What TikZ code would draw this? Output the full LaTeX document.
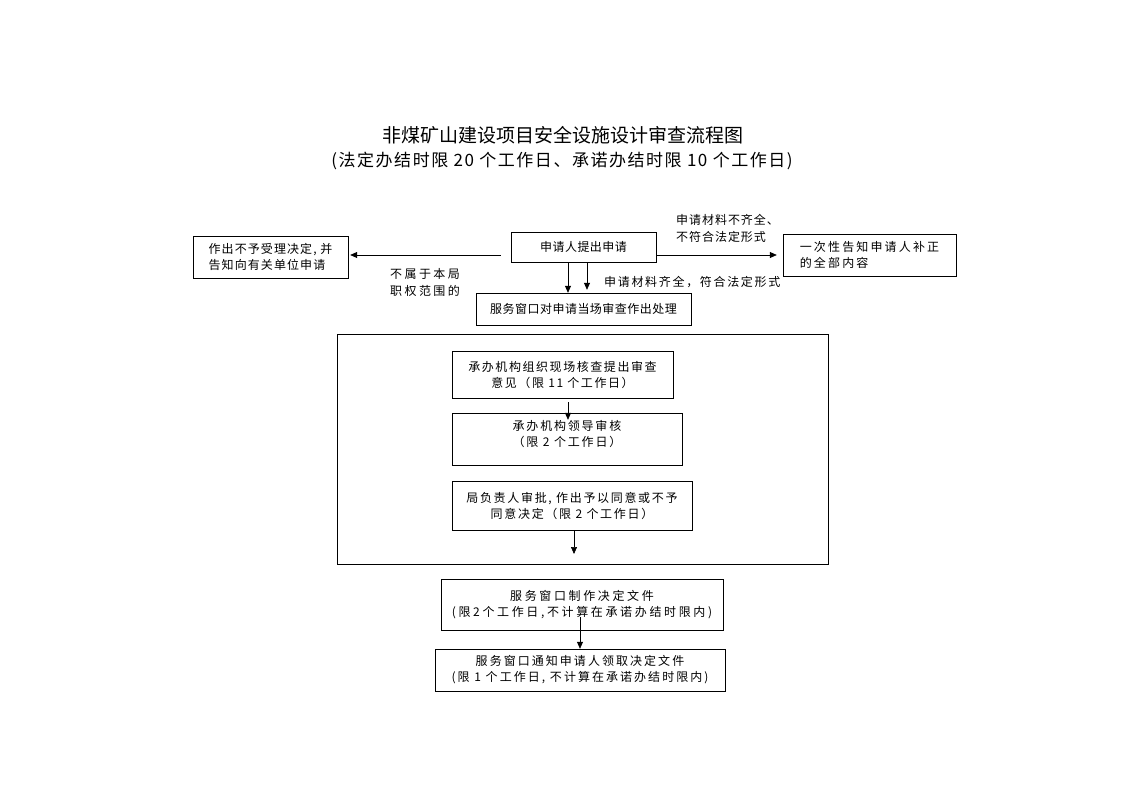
\documentclass[tikz,border=0pt]{standalone}
\usepackage{fontspec}
\setmainfont{Noto Sans CJK SC}
\usetikzlibrary{arrows.meta}

\tikzset{
  box/.style = {draw, thin, inner sep = 2pt, align = center, font = \fontsize{12}{16}\selectfont},
  lbox/.style = {box, align = left},
  sp/.style = {font = \fontsize{12}{16}\selectfont\addfontfeatures{LetterSpace = #1}},
  arr/.style = {-{Triangle[length = 7pt, width = 6pt]}, line width = 0.7pt},
  note/.style = {align = left, inner sep = 0pt}
}

\begin{document}
\begin{tikzpicture}[x = 1pt, y = -1pt]
\useasboundingbox (0, 0) rectangle (1122, 793);
% title
\node (title) at (563, 135) {\fontsize{19}{22}\selectfont 非煤矿山建设项目安全设施设计审查流程图};
\node (subtitle) at (562, 161) {\fontsize{17}{20}\selectfont\addfontfeatures{LetterSpace = 9}(法定办结时限 20 个工作日、承诺办结时限 10 个工作日)};
% top row
\node[box, sp = 4, minimum width = 145pt, minimum height = 30pt] (apply) at (583.5, 247) {申请人提出申请};
\node[lbox, sp = 9, minimum width = 155pt, minimum height = 42pt] (reject) at (270.5, 257) {作出不予受理决定, 并\\告知向有关单位申请};
\node[lbox, sp = 18, minimum width = 173pt, minimum height = 42pt] (notify) at (869.5, 255) {一次性告知申请人补正\\的全部内容};
\node[box, sp = 4, minimum width = 215pt, minimum height = 32pt] (window) at (583.5, 309) {服务窗口对申请当场审查作出处理};
% labels
\node[note, anchor = north west, font = \fontsize{12}{17}\selectfont\addfontfeatures{LetterSpace = 20}] (nolabel) at (390, 268) {不属于本局\\职权范围的};
\node[note, anchor = south west, font = \fontsize{12}{17}\selectfont\addfontfeatures{LetterSpace = 8}] (badlabel) at (676, 243) {申请材料不齐全、\\不符合法定形式};
\node[note, anchor = west, font = \fontsize{12}{17}\selectfont\addfontfeatures{LetterSpace = 14}] (oklabel) at (604, 282) {申请材料齐全，符合法定形式};
% frame
\draw (337, 334) rectangle (828, 564);
\node[box, sp = 13, minimum width = 221pt, minimum height = 47pt] (check) at (562.5, 374.5) {承办机构组织现场核查提出审查\\意见（限 11 个工作日）};
\node[box, sp = 15, minimum width = 230pt, minimum height = 52pt] (lead) at (567, 439) {承办机构领导审核\\（限 2 个工作日）\\[-4pt]};
\node[box, sp = 14, minimum width = 240pt, minimum height = 49pt] (approve) at (572, 505.5) {局负责人审批, 作出予以同意或不予\\同意决定（限 2 个工作日）};
\coordinate (out) at (574, 554);
% bottom
\node[box, sp = 22, minimum width = 282pt, minimum height = 51pt] (make) at (582, 604.5) {服务窗口制作决定文件\\(限2个工作日,不计算在承诺办结时限内)};
\node[box, sp = 17, minimum width = 290pt, minimum height = 42pt] (inform) at (580, 670) {服务窗口通知申请人领取决定文件\\(限 1 个工作日, 不计算在承诺办结时限内)};
% arrows
\coordinate (lstart) at ([xshift = -10pt, yshift = -8pt]apply.west);
\draw[arr] (lstart) -- ([xshift = 2pt]lstart -| reject.east);
\draw[arr] ([yshift = -8pt]apply.east) -- ([xshift = -6pt, yshift = -8pt]apply.east -| notify.west);
\draw[arr] ([xshift = -15.5pt]apply.south) -- ([xshift = -15.5pt]window.north);
\draw[arr] ([xshift = 3.5pt]apply.south) -- ([xshift = 3.5pt, yshift = 3pt]window.north);
\draw[arr] ([xshift = 5.5pt, yshift = -4pt]check.south) -- ([xshift = 1pt, yshift = -7pt]lead.north);
\draw[arr] ([xshift = 2pt]approve.south) -- (out);
\draw[arr] ([xshift = -2pt, yshift = 13pt]make.south) -- (inform.north);
\end{tikzpicture}
\end{document}
